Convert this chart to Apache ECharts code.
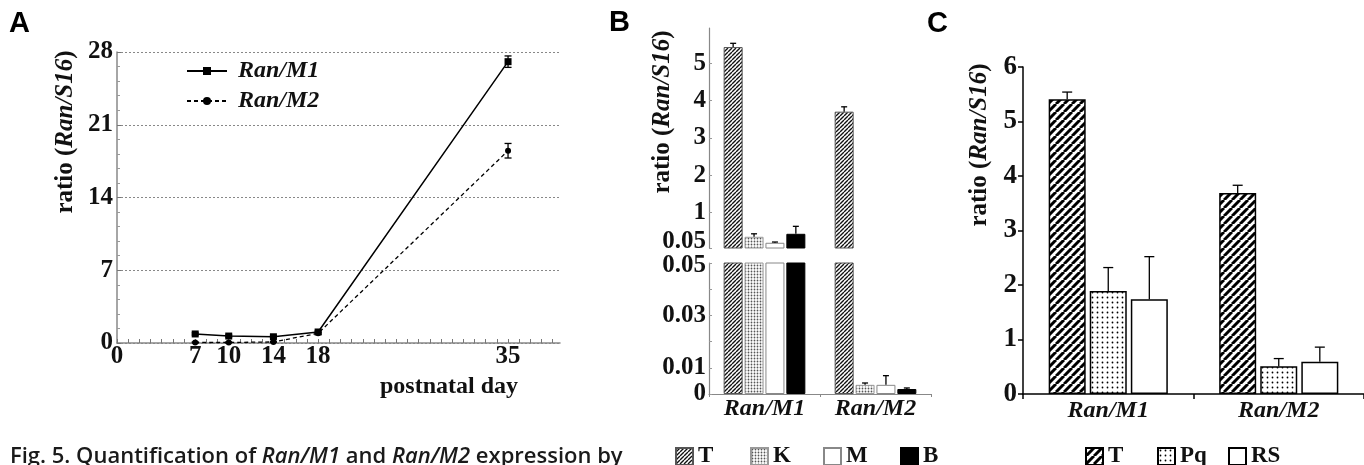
<!DOCTYPE html>
<html><head><meta charset="utf-8">
<script src="https://cdn.jsdelivr.net/npm/echarts@6/dist/echarts.min.js"></script>
<style>html,body{margin:0;padding:0;background:#fff}#c{width:1364px;height:465px}</style>
</head><body><div id="c"></div>
<script>
// ---------- Panel A data ----------
const aDays = [7, 10, 14, 18, 35];
const aM1 = [0.87, 0.67, 0.6, 1.06, 27.07];
const aM1Err = [0.1, 0.1, 0.1, 0.1, 0.55];
const aM2 = [0.05, 0.05, 0.1, 0.93, 18.5];
const aM2Err = [0.05, 0.05, 0.05, 0.1, 0.7];
const aXLabels = [0, 7, 10, 14, 18, 35];
const aXTicks = [0,1,2,3,4,5,6,7,8,9,10,11,12,13,14,15,16,17,18,19,20,21,22,23,24,25,26,27,28,29,30,31,32,33,34,35,36,37,38,39];
const aYLabels = [0, 7, 14, 21, 28];

// ---------- Panel B data ----------
const bCats = ['Ran/M1', 'Ran/M2'];
const bNames = ['T', 'K', 'M', 'B'];
const bT = [5.43, 3.70];   const bTErr = [0.10, 0.13];
const bK = [0.35, 0.0035]; const bKErr = [0.08, 0.0007];
const bM = [0.19, 0.0035]; const bMErr = [0.02, 0.0035];
const bB = [0.43, 0.0019]; const bBErr = [0.20, 0.0004];
const bUpperLabels = [0.05, 1, 2, 3, 4, 5];
const bLowerLabels = [0, 0.01, 0.03, 0.05];
const bBreak = 0.05;

// ---------- Panel C data ----------
const cCats = ['Ran/M1', 'Ran/M2'];
const cNames = ['T', 'Pq', 'RS'];
const cT = [5.41, 3.69];  const cTErr = [0.13, 0.14];
const cPq = [1.89, 0.51]; const cPqErr = [0.43, 0.14];
const cRS = [1.74, 0.59]; const cRSErr = [0.78, 0.27];
const cYLabels = [0, 1, 2, 3, 4, 5, 6];

// ---------- styles ----------
const SERIF = 'Liberation Serif';
function hatch(s, lw, color) {
  const c = document.createElement('canvas'); c.width = c.height = s;
  const g = c.getContext('2d'); g.fillStyle = '#fff'; g.fillRect(0, 0, s, s);
  g.strokeStyle = color; g.lineWidth = lw; g.beginPath();
  [-s, 0, s].forEach(x0 => { g.moveTo(x0, s); g.lineTo(x0 + s, 0); });
  g.stroke(); return { image: c, repeat: 'repeat' };
}
function dots(s, r, color) {
  const c = document.createElement('canvas'); c.width = c.height = s;
  const g = c.getContext('2d'); g.fillStyle = '#fff'; g.fillRect(0, 0, s, s);
  g.fillStyle = color; g.beginPath(); g.arc(s / 2, s / 2, r, 0, Math.PI * 2); g.fill();
  return { image: c, repeat: 'repeat' };
}
const fillB = [hatch(4, 1.4, '#111'), dots(3, 0.9, '#555'), '#fff', '#000'];
const borderB = ['#555', '#999', '#888', '#000'];
const fillC = [hatch(8, 3, '#000'), dots(5, 0.9, '#000'), '#fff'];

const tickFont = { fontFamily: SERIF, fontWeight: 'bold', fontSize: 25, color: '#111' };
const catFont = { fontFamily: SERIF, fontWeight: 'bold', fontStyle: 'italic', fontSize: 24, color: '#111' };
const richUp = { u: { fontFamily: SERIF, fontWeight: 'bold', fontSize: 25, color: '#111', padding: [0, 0, 12, 0] } };
const richDown = { d: { fontFamily: SERIF, fontWeight: 'bold', fontSize: 25, color: '#111', padding: [6, 0, 0, 0] } };

// error-bar custom series: data rows [x, y, err, offsetPx]
function errSeries(xi, yi, rows, halfCap, both) {
  return {
    type: 'custom', xAxisIndex: xi, yAxisIndex: yi, z: 10, silent: true,
    encode: { x: 0, y: 1 },
    data: rows,
    renderItem(params, api) {
      const x = api.value(0), y = api.value(1), e = api.value(2), off = api.value(3);
      const p = api.coord([x, y]);
      const hi = api.coord([x, y + e]);
      const lo = both ? api.coord([x, y - e]) : p;
      const cx = p[0] + off;
      const st = { stroke: '#000', lineWidth: 1.3 };
      const ch = [
        { type: 'line', shape: { x1: cx, y1: lo[1], x2: cx, y2: hi[1] }, style: st },
        { type: 'line', shape: { x1: cx - halfCap, y1: hi[1], x2: cx + halfCap, y2: hi[1] }, style: st }
      ];
      if (both) ch.push({ type: 'line', shape: { x1: cx - halfCap, y1: lo[1], x2: cx + halfCap, y2: lo[1] }, style: st });
      return { type: 'group', children: ch };
    }
  };
}

// ---------- Build series ----------
const series = [];
series.push({ name: 'Ran/M1', type: 'line', xAxisIndex: 0, yAxisIndex: 0,
  data: aDays.map((d, i) => [d, aM1[i]]), symbol: 'rect', symbolSize: 7,
  itemStyle: { color: '#000' }, lineStyle: { color: '#000', width: 1.5 }, z: 5 });
series.push({ name: 'Ran/M2', type: 'line', xAxisIndex: 0, yAxisIndex: 0,
  data: aDays.map((d, i) => [d, aM2[i]]), symbol: 'circle', symbolSize: 6,
  itemStyle: { color: '#000' }, lineStyle: { color: '#000', width: 1.3, type: [4, 3] }, z: 5 });
series.push(errSeries(0, 0, aDays.map((d, i) => [d, aM1[i], aM1Err[i], 0]), 3.5, true));
series.push(errSeries(0, 0, aDays.map((d, i) => [d, aM2[i], aM2Err[i], 0]), 3.5, true));

// Panel B
const bVals = [bT, bK, bM, bB], bErrs = [bTErr, bKErr, bMErr, bBErr];
const bBW = 19, bGap = 0.1, bStep = bBW * (1 + bGap);
bNames.forEach((n, k) => {
  const base = { name: n, type: 'bar', barWidth: bBW, barGap: (bGap * 100) + '%', clip: true,
    itemStyle: { color: fillB[k], borderColor: borderB[k], borderWidth: 1 } };
  series.push(Object.assign({}, base, { xAxisIndex: 1, yAxisIndex: 1,
    data: bVals[k].map(v => v >= bBreak ? v : '-') }));
  series.push(Object.assign({}, base, { xAxisIndex: 2, yAxisIndex: 2, data: bVals[k].slice() }));
});
const bUpRows = [], bLoRows = [];
bNames.forEach((n, k) => bVals[k].forEach((v, i) => {
  const row = [i, v, bErrs[k][i], (k - 1.5) * bStep];
  (v >= bBreak ? bUpRows : bLoRows).push(row);
}));
series.push(errSeries(1, 1, bUpRows, 3, false));
series.push(errSeries(2, 2, bLoRows, 3, false));

// Panel C
const cVals = [cT, cPq, cRS], cErrs = [cTErr, cPqErr, cRSErr];
const cBW = 37, cGap = 0.11, cStep = cBW * (1 + cGap);
cNames.forEach((n, k) => {
  series.push({ name: n + ' ', type: 'bar', xAxisIndex: 3, yAxisIndex: 3,
    barWidth: cBW, barGap: (cGap * 100) + '%', data: cVals[k].slice(),
    itemStyle: { color: fillC[k], borderColor: '#000', borderWidth: 1.5 } });
});
const cRows = [];
cNames.forEach((n, k) => cVals[k].forEach((v, i) => cRows.push([i, v, cErrs[k][i], (k - 1) * cStep])));
series.push(errSeries(3, 3, cRows, 5, false));

// ---------- Legends ----------
const legTxt = { fontFamily: SERIF, fontWeight: 'bold', fontSize: 23, color: '#111' };
function legItem(name, left) {
  return { data: [name], left, top: 445, padding: 0, itemWidth: 17, itemHeight: 17, itemGap: 0,
    icon: 'rect', selectedMode: false, formatter: s => s.trim(), textStyle: legTxt };
}
const legends = [
  { data: ['Ran/M1', 'Ran/M2'], orient: 'vertical', left: 186, top: 59, padding: 0,
    itemWidth: 40, itemHeight: 10, itemGap: 6, selectedMode: false,
    textStyle: { fontFamily: SERIF, fontWeight: 'bold', fontStyle: 'italic', fontSize: 24, color: '#111', padding: [0, 0, 0, 6] } },
  legItem('T', 675), legItem('K', 750), legItem('M', 823), legItem('B', 900),
  legItem('T ', 1085), legItem('Pq ', 1157), legItem('RS ', 1228)
];

// ---------- Texts ----------
const yNameRich = {
  a: { fontFamily: SERIF, fontWeight: 'bold', fontSize: 25, fill: '#111' },
  b: { fontFamily: SERIF, fontWeight: 'bold', fontStyle: 'italic', fontSize: 25, fill: '#111' }
};
function yName(x, y) {
  return { type: 'text', x, y, rotation: Math.PI / 2,
    style: { text: '{a|ratio (}{b|Ran/S16}{a|)}', rich: yNameRich, align: 'center', verticalAlign: 'middle' } };
}
function panelLabel(t, x, y) {
  return { type: 'text', x, y, style: { text: t, font: 'bold 29px "Liberation Sans"', fill: '#000', verticalAlign: 'top' } };
}
const graphics = [
  panelLabel('A', 9, 9), panelLabel('B', 609, 8), panelLabel('C', 927, 9),
  yName(66, 132), yName(663, 112), yName(980, 145),
  { type: 'text', x: 518, y: 387, style: { text: 'postnatal day', font: 'bold 24px "Liberation Serif"', fill: '#111', align: 'right', verticalAlign: 'middle' } },
  { type: 'text', x: 10, y: 446, style: {
      text: '{n|Fig. 5. Quantification of }{i|Ran/M1}{n| and }{i|Ran/M2}{n| expression by}',
      verticalAlign: 'top',
      rich: { n: { fontFamily: 'Open Sans', fontWeight: 600, fontSize: 22, fill: '#1a1a1a' },
              i: { fontFamily: 'Open Sans', fontWeight: 600, fontStyle: 'italic', fontSize: 22, fill: '#1a1a1a' } } } }
];

// ---------- Axes ----------
const grayAxis = { lineStyle: { color: '#888', width: 1.2 } };
const option = {
  animation: false,
  backgroundColor: '#fff',
  grid: [
    { left: 117, top: 52, width: 443, height: 291 },
    { left: 709, top: 28, width: 222, height: 220 },
    { left: 709, top: 263, width: 222, height: 131 },
    { left: 1023, top: 67, width: 341, height: 327 }
  ],
  xAxis: [
    { type: 'value', gridIndex: 0, min: 0, max: 39.65,
      axisLine: { show: true, onZero: false, lineStyle: { color: '#888', width: 1.5 } },
      axisTick: { show: true, inside: true, length: 4, customValues: aXTicks, lineStyle: { color: '#777' } },
      axisLabel: { customValues: aXLabels, margin: 1, ...tickFont },
      splitLine: { show: false } },
    { type: 'category', gridIndex: 1, data: bCats, axisLine: { show: false }, axisTick: { show: false },
      axisLabel: { show: false } },
    { type: 'category', gridIndex: 2, data: bCats,
      axisLine: { show: true, lineStyle: { color: '#888', width: 1.2 } },
      axisTick: { show: true, length: 3, lineStyle: { color: '#888' } },
      axisLabel: { margin: 3, ...catFont } },
    { type: 'category', gridIndex: 3, data: cCats,
      axisLine: { show: true, lineStyle: { color: '#000', width: 1.5 } },
      axisTick: { show: true, length: 5, lineStyle: { color: '#000', width: 1.5 } },
      axisLabel: { margin: 5, ...catFont } }
  ],
  yAxis: [
    { type: 'value', gridIndex: 0, min: 0, max: 28, interval: 7,
      axisLine: { show: true, lineStyle: { color: '#888', width: 1.5 } },
      axisTick: { show: true, inside: true, length: 4, lineStyle: { color: '#777' } },
      minorTick: { show: true, splitNumber: 5, length: 3, lineStyle: { color: '#999' } },
      axisLabel: { customValues: aYLabels, margin: 4, ...tickFont },
      splitLine: { show: true, lineStyle: { color: '#888', type: [2, 2], width: 1 } } },
    { type: 'value', gridIndex: 1, min: bBreak, max: 5.94,
      axisLine: { show: true, ...grayAxis },
      axisTick: { show: true, inside: true, length: 3, customValues: bUpperLabels, lineStyle: { color: '#999' } },
      axisLabel: { customValues: bUpperLabels, margin: 3, ...tickFont, rich: richUp,
        formatter: v => v === bBreak ? '{u|' + v + '}' : String(v) },
      splitLine: { show: false } },
    { type: 'value', gridIndex: 2, min: 0, max: bBreak,
      axisLine: { show: true, ...grayAxis },
      axisTick: { show: true, inside: true, length: 3, customValues: [0, 0.01, 0.02, 0.03, 0.04, 0.05], lineStyle: { color: '#999' } },
      axisLabel: { customValues: bLowerLabels, margin: 3, ...tickFont, rich: richDown,
        formatter: v => v === bBreak ? '{d|' + v + '}' : String(v) },
      splitLine: { show: false } },
    { type: 'value', gridIndex: 3, min: 0, max: 6, interval: 1,
      axisLine: { show: true, lineStyle: { color: '#000', width: 1.5 } },
      axisTick: { show: true, length: 5, lineStyle: { color: '#000', width: 1.5 } },
      axisLabel: { customValues: cYLabels, margin: 6, ...tickFont, fontSize: 27 },
      splitLine: { show: false } }
  ],
  legend: legends,
  graphic: graphics,
  series
};
const chart = echarts.init(document.getElementById('c'), null, { renderer: 'canvas' });
chart.setOption(option);
</script>
</body></html>
